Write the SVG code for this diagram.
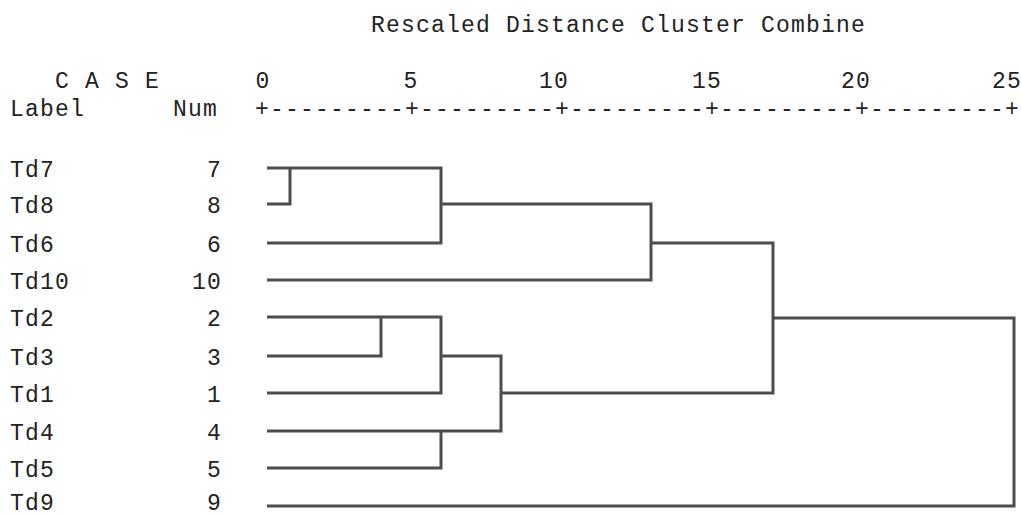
<svg xmlns="http://www.w3.org/2000/svg" width="1021" height="516" viewBox="0 0 1021 516">
<style>
  text { font-family: "Liberation Mono", "DejaVu Sans Mono", monospace; font-size: 23px; letter-spacing: 1.2px; fill: #222; }
  .num { text-anchor: end; }
  .tick { text-anchor: middle; }
  .link { fill: none; stroke: #4d4d4d; stroke-width: 3; stroke-linejoin: miter; }
</style>
<rect width="1021" height="516" fill="#fff"/>
<g id="header">
  <text x="371" y="32">Rescaled Distance Cluster Combine</text>
  <text x="55" y="88">C A S E</text>
  <text x="10" y="116">Label</text>
  <text x="173" y="116">Num</text>
</g>
<g id="axis">
  <text class="tick" x="263" y="88">0</text>
  <text class="tick" x="411" y="88">5</text>
  <text class="tick" x="554" y="88">10</text>
  <text class="tick" x="707" y="88">15</text>
  <text class="tick" x="856" y="88">20</text>
  <text class="tick" x="1007" y="88">25</text>
  <text x="255" y="116">+---------+---------+---------+---------+---------+</text>
</g>
<g id="case-7"><text x="10" y="177">Td7</text><text class="num" x="222" y="177">7</text></g>
<g id="case-8"><text x="10" y="213">Td8</text><text class="num" x="222" y="213">8</text></g>
<g id="case-6"><text x="10" y="252">Td6</text><text class="num" x="222" y="252">6</text></g>
<g id="case-10"><text x="10" y="289">Td10</text><text class="num" x="222" y="289">10</text></g>
<g id="case-2"><text x="10" y="326">Td2</text><text class="num" x="222" y="326">2</text></g>
<g id="case-3"><text x="10" y="365">Td3</text><text class="num" x="222" y="365">3</text></g>
<g id="case-1"><text x="10" y="402">Td1</text><text class="num" x="222" y="402">1</text></g>
<g id="case-4"><text x="10" y="440">Td4</text><text class="num" x="222" y="440">4</text></g>
<g id="case-5"><text x="10" y="477">Td5</text><text class="num" x="222" y="477">5</text></g>
<g id="case-9"><text x="10" y="510">Td9</text><text class="num" x="222" y="510">9</text></g>
<g id="connectors">
  <path class="link" d="M267,204 H290 V168"/>
  <path class="link" d="M267,168 H441 V243 H267"/>
  <path class="link" d="M441,204 H651 V280 H267"/>
  <path class="link" d="M267,356 H381 V317"/>
  <path class="link" d="M267,317 H441 V393 H267"/>
  <path class="link" d="M267,468 H441 V431"/>
  <path class="link" d="M441,356 H501 V431 H267"/>
  <path class="link" d="M651,243 H773 V393 H501"/>
  <path class="link" d="M773,318 H1014 V506 H267"/>
</g>
</svg>
